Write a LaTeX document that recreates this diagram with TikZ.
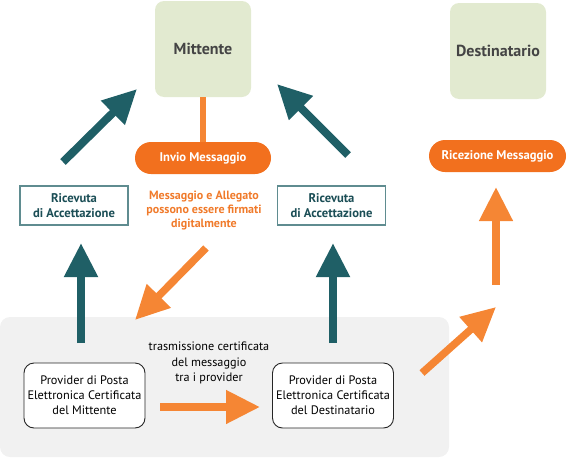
\documentclass[tikz,border=0pt]{standalone}
\usepackage{fontspec}
\setmainfont{PT Sans}
\usetikzlibrary{arrows.meta}
\definecolor{teal1}{HTML}{1F5F66}
\definecolor{org}{HTML}{F58634}
\definecolor{orgpill}{HTML}{F2701E}
\definecolor{grn}{HTML}{E2EAD0}
\definecolor{greybg}{HTML}{F1F1F1}
\definecolor{boxline}{HTML}{5F8C90}
\definecolor{txtteal}{HTML}{1B4E56}
\definecolor{orgtxt}{HTML}{F07A2A}
\definecolor{darktxt}{HTML}{444444}
\tikzset{
  party/.style={fill=grn, rounded corners=9pt, minimum width=96pt, minimum height=96pt, inner sep=0pt,
    font=\fontsize{16}{18}\selectfont\bfseries, text=darktxt},
  pill/.style={fill=orgpill, rounded corners=16pt, minimum height=32pt, inner sep=0pt,
    font=\fontsize{12.6}{14}\selectfont\bfseries, text=white},
  ricev/.style={draw=boxline, line width=1.3pt, fill=white, minimum width=108pt, minimum height=39pt,
    inner sep=0pt, align=center, font=\fontsize{12.6}{14.5}\selectfont\bfseries, text=txtteal},
  orgnote/.style={align=center, font=\fontsize{12}{14}\selectfont\bfseries, text=orgtxt},
  prov/.style={draw=black!85, line width=0.9pt, fill=white, rounded corners=10pt, minimum width=121pt,
    minimum height=65pt, inner sep=0pt, align=center, font=\fontsize{12.3}{15.2}\selectfont},
  plaintxt/.style={align=center, font=\fontsize{12.2}{15.2}\selectfont},
  tealarrow/.style={draw=teal1, line width=8pt, -{Triangle[width=32pt,length=34pt]}},
  orgarrow/.style={draw=org, line width=7.5pt, -{Triangle[width=32pt,length=34pt]}},
  orgline/.style={draw=org, line width=6pt},
}
\begin{document}
\begin{tikzpicture}[x=1pt,y=-1pt]
\useasboundingbox (0,0) rectangle (567,458);
\fill[greybg, rounded corners=10pt] (0,317) rectangle (449,457);

\node[party] (mit) at (203,49) {Mittente};
\node[party] (dest) at (498,51) {Destinatario};
\node[pill, minimum width=136pt] (invio) at (203,158) {Invio Messaggio};
\node[pill, minimum width=137pt] (ric) at (497.5,156) {Ricezione Messaggio};
\node[ricev] (r1) at (74,205.5) {Ricevuta\\di Accettazione};
\node[ricev] (r2) at (331.5,205.5) {Ricevuta\\di Accettazione};
\node[orgnote] (note) at (204,211) {Messaggio e Allegato\\possono essere firmati\\digitalmente};
\node[prov] (p1) at (84.5,395.5) {Provider di Posta\\Elettronica Certificata\\del Mittente};
\node[prov] (p2) at (333,395.5) {Provider di Posta\\Elettronica Certificata\\del Destinatario};
\node[plaintxt] (tr) at (209,363) {trasmissione certificata\\del messaggio\\tra i provider};

\draw[orgline] (mit.south) -- (invio.north);

\coordinate (t1s) at (81,343); \coordinate (t1e) at (81,243);
\coordinate (t2s) at (333,343); \coordinate (t2e) at (333,243);
\coordinate (t3s) at (63,162); \coordinate (t3e) at (137,89);
\coordinate (t4s) at (348,155); \coordinate (t4e) at (277,84);
\draw[tealarrow] (t1s) -- (t1e);
\draw[tealarrow] (t2s) -- (t2e);
\draw[tealarrow] (t3s) -- (t3e);
\draw[tealarrow] (t4s) -- (t4e);

\coordinate (o1s) at (206,248); \coordinate (o1e) at (135,320);
\coordinate (o2s) at (160,407); \coordinate (o2e) at (260,407);
\coordinate (o3s) at (422,373); \coordinate (o3e) at (496,307);
\coordinate (o4s) at (496,285); \coordinate (o4e) at (496,187);
\draw[orgarrow] (o1s) -- (o1e);
\draw[orgarrow] (o2s) -- (o2e);
\draw[orgarrow] (o3s) -- (o3e);
\draw[orgarrow] (o4s) -- (o4e);
\end{tikzpicture}
\end{document}
